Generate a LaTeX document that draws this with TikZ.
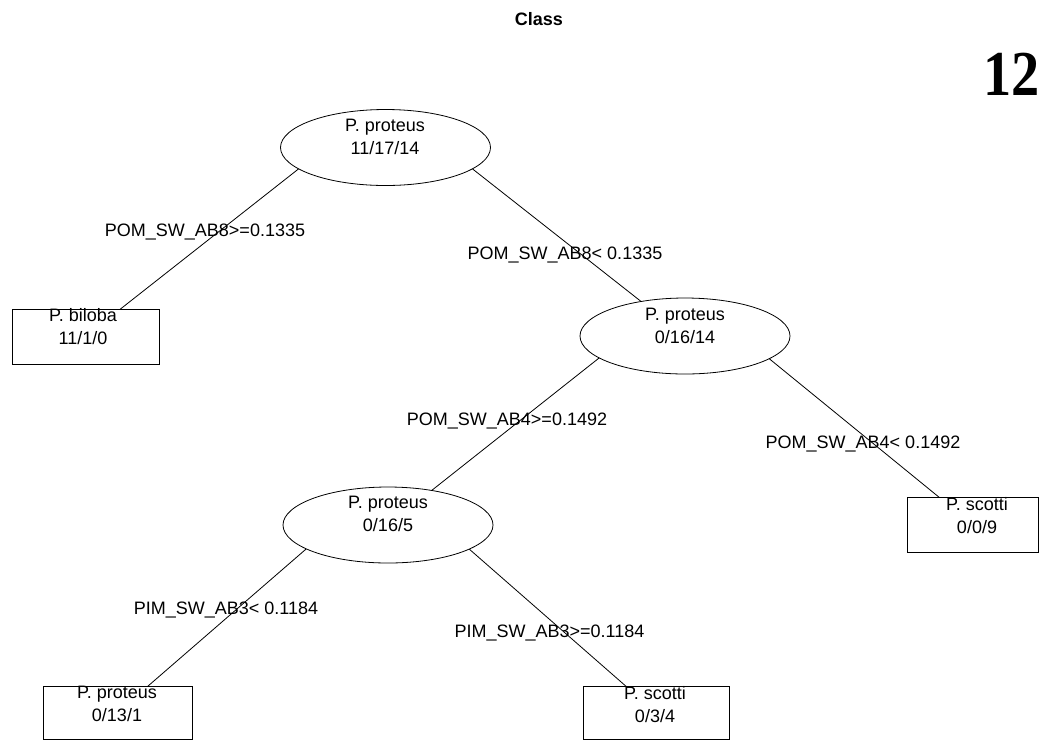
\documentclass[tikz,border=0pt]{standalone}
\usepackage{fontspec}
\setmainfont{Liberation Sans}
\newfontfamily\numfont{Liberation Serif}
\usetikzlibrary{shapes.geometric,backgrounds,calc}
\tikzset{
  every node/.style={inner sep=0pt, outer sep=0pt},
  splitnode/.style={ellipse, draw=black, line width=0.8pt, fill=white, minimum width=210pt, minimum height=76pt},
  leafnode/.style={rectangle, draw=black, line width=0.8pt, fill=white},
  nodetext/.style={anchor=north, align=center, font=\fontsize{18}{22.5}\selectfont},
  edgelabel/.style={anchor=base, font=\fontsize{18}{22}\selectfont},
  branch/.style={draw=black, line width=0.8pt, shorten <=30pt}
}
\begin{document}
\begin{tikzpicture}[x=1pt, y=-1pt]
\useasboundingbox (0,0) rectangle (1043,740);

% title and page number
\node[anchor=base east, font=\fontsize{18}{22}\selectfont\bfseries] (title) at (563,25.5) {Class};
\node[anchor=base west, xscale=0.88, font=\numfont\fontsize{64}{74}\selectfont\bfseries] (pagenum) at (983,95) {12};

% split nodes
\node[splitnode] (root) at (385.5,147.5) {};
\node[splitnode] (e2) at (685,336) {};
\node[splitnode] (e3) at (388,525) {};

% leaves
\node[leafnode, minimum width=147pt, minimum height=55pt] (bil) at (85.5,336.5) {};
\node[leafnode, minimum width=131pt, minimum height=55pt] (sc1) at (972.5,524.5) {};
\node[leafnode, minimum width=149pt, minimum height=53pt] (pro) at (117.5,712.5) {};
\node[leafnode, minimum width=146pt, minimum height=53pt] (sc2) at (656,712.5) {};

% node texts
\node[nodetext] (rootT) at (385,119.5) {P. proteus\\11/17/14};
\node[nodetext] (e2T) at (685,308.5) {P. proteus\\0/16/14};
\node[nodetext] (e3T) at (388,496.5) {P. proteus\\0/16/5};
\node[nodetext] (bilT) at (83,308.5) {P. biloba\\11/1/0};
\node[nodetext] (sc1T) at (977,497.5) {P. scotti\\0/0/9};
\node[nodetext] (proT) at (117,686.5) {P. proteus\\0/13/1};
\node[nodetext] (sc2T) at (655,686.5) {P. scotti\\0/3/4};

% branch apexes (hidden inside the parent ellipses)
\coordinate (rootS) at ($(root.center)+(0,-47)$);
\coordinate (e2S) at ($(e2.center)+(0,-46)$);
\coordinate (e3S) at ($(e3.center)+(0,-47)$);

\begin{pgfonlayer}{background}
\draw[branch] (rootS) -- (bil.center);
\draw[branch] (rootS) -- (e2.center);
\draw[branch] (e2S) -- (e3.center);
\draw[branch] (e2S) -- (sc1.center);
\draw[branch] (e3S) -- (pro.center);
\draw[branch] (e3S) -- (sc2.center);
\end{pgfonlayer}

% split labels
\node[edgelabel] (l1) at (205,236.5) {POM\_SW\_AB8>=0.1335};
\node[edgelabel] (l2) at (565,259.5) {POM\_SW\_AB8< 0.1335};
\node[edgelabel] (l3) at (507,425.5) {POM\_SW\_AB4>=0.1492};
\node[edgelabel] (l4) at (863,448.5) {POM\_SW\_AB4< 0.1492};
\node[edgelabel] (l5) at (226,614.5) {PIM\_SW\_AB3< 0.1184};
\node[edgelabel] (l6) at (549.5,637.5) {PIM\_SW\_AB3>=0.1184};
\end{tikzpicture}
\end{document}
